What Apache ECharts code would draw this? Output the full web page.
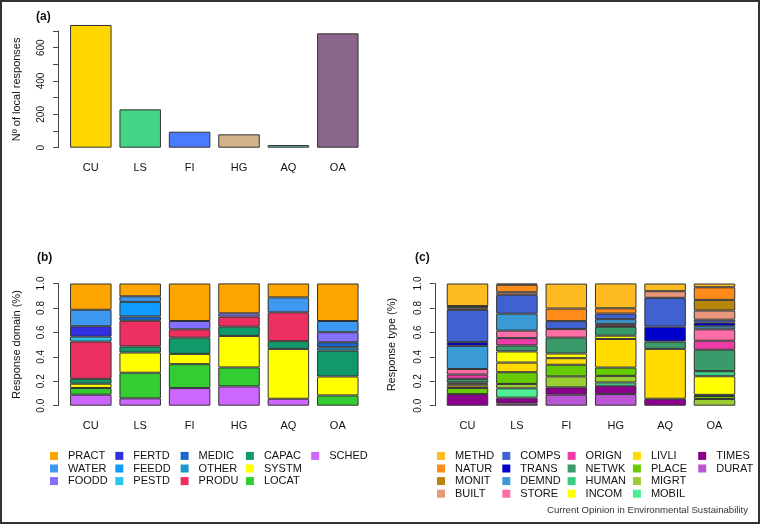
<!DOCTYPE html>
<html><head><meta charset="utf-8">
<script src="https://cdn.jsdelivr.net/npm/echarts@6/dist/echarts.min.js"></script>
<style>html,body{margin:0;padding:0;background:#fff}#c{width:760px;height:524px}</style>
</head><body><div id="c"></div>
<script>
// ---- data ----
const categories = ['CU', 'LS', 'FI', 'HG', 'AQ', 'OA'];
const responseCounts = [736, 230, 96, 80, 16, 686];
const countTickLabels = [0, 200, 400, 600];

// Panel (b): response domain shares, legend order (top of stack first)
const domainNames = ['PRACT','WATER','FOODD','FERTD','FEEDD','PESTD','MEDIC','OTHER','PRODU','CAPAC','SYSTM','LOCAT','SCHED'];
const PRACT = [0.215, 0.105, 0.307, 0.245, 0.114, 0.307];
const WATER = [0.135, 0.045, 0, 0, 0.122, 0.092];
const FOODD = [0, 0, 0.068, 0.027, 0, 0.082];
const FERTD = [0.085, 0, 0, 0, 0, 0];
const FEEDD = [0, 0.12, 0, 0, 0, 0];
const PESTD = [0.04, 0, 0, 0, 0, 0];
const MEDIC = [0, 0.035, 0, 0, 0, 0.041];
const OTHER = [0, 0, 0, 0, 0, 0.027];
const PRODU = [0.305, 0.21, 0.068, 0.082, 0.236, 0];
const CAPAC = [0.04, 0.05, 0.133, 0.076, 0.063, 0.212];
const SYSTM = [0.035, 0.165, 0.084, 0.258, 0.408, 0.155];
const LOCAT = [0.055, 0.21, 0.196, 0.155, 0, 0.084];
const SCHED = [0.09, 0.06, 0.144, 0.158, 0.057, 0];
const domainValues = {PRACT, WATER, FOODD, FERTD, FEEDD, PESTD, MEDIC, OTHER, PRODU, CAPAC, SYSTM, LOCAT, SCHED};

// Panel (c): response type shares, legend order (top of stack first)
const typeNames = ['METHD','NATUR','MONIT','BUILT','COMPS','TRANS','DEMND','STORE','ORIGN','NETWK','HUMAN','INCOM','LIVLI','PLACE','MIGRT','MOBIL','TIMES','DURAT'];
const METHD = [0.185, 0.01, 0.204, 0.204, 0.063, 0.031];
const NATUR = [0.005, 0.062, 0.103, 0.043, 0, 0.103];
const MONIT = [0.015, 0, 0, 0, 0, 0.087];
const BUILT = [0.01, 0.02, 0, 0, 0.054, 0.075];
const COMPS = [0.265, 0.155, 0.065, 0.046, 0.236, 0.024];
const TRANS = [0.03, 0, 0, 0, 0.122, 0.03];
const DEMND = [0.19, 0.139, 0, 0.038, 0, 0.025];
const STORE = [0.045, 0.061, 0.07, 0.016, 0, 0.093];
const ORIGN = [0.035, 0.06, 0, 0.008, 0, 0.074];
const NETWK = [0.03, 0.049, 0.13, 0.073, 0.06, 0.175];
const HUMAN = [0.01, 0, 0, 0, 0, 0.042];
const INCOM = [0.015, 0.091, 0.038, 0.027, 0, 0.152];
const LIVLI = [0.02, 0.079, 0.054, 0.234, 0.408, 0.01];
const PLACE = [0.05, 0.096, 0.095, 0.068, 0, 0.024];
const MIGRT = [0, 0.036, 0.09, 0.054, 0, 0.055];
const MOBIL = [0, 0.076, 0, 0.027, 0, 0];
const TIMES = [0.095, 0.048, 0.06, 0.068, 0.057, 0];
const DURAT = [0, 0.018, 0.09, 0.095, 0, 0];
const typeValues = {METHD, NATUR, MONIT, BUILT, COMPS, TRANS, DEMND, STORE, ORIGN, NETWK, HUMAN, INCOM, LIVLI, PLACE, MIGRT, MOBIL, TIMES, DURAT};

// ---- styles ----
const countColors = ['#FFD700', '#44D486', '#4A7BFF', '#D2B48C', '#62C8C8', '#8B668B'];
const domainColors = {PRACT:'#FFA500', WATER:'#3D99F0', FOODD:'#8470FF', FERTD:'#3030E0', FEEDD:'#109CFF', PESTD:'#28C4F0',
  MEDIC:'#1866C8', OTHER:'#1B98CC', PRODU:'#EE3060', CAPAC:'#12996A', SYSTM:'#FFFF00', LOCAT:'#33CC33', SCHED:'#CC66FF'};
const typeColors = {METHD:'#FDBA21', NATUR:'#FF8C1A', MONIT:'#B8860B', BUILT:'#E9967A', COMPS:'#4062D0', TRANS:'#0000CD',
  DEMND:'#3A9AD6', STORE:'#FF6EA6', ORIGN:'#F03CA8', NETWK:'#3A9A6A', HUMAN:'#3CCB82', INCOM:'#FFFF00',
  LIVLI:'#FFDB00', PLACE:'#66CC00', MIGRT:'#9ACD32', MOBIL:'#4EEE94', TIMES:'#8B008B', DURAT:'#BA55D3'};

const FONT = "'Liberation Sans', Arial, sans-serif";
const AX = '#444';
const border = {borderColor: '#333', borderWidth: 1};

function xAxisCfg(gi) {
  return {type: 'category', gridIndex: gi, data: categories,
    axisLine: {show: false}, axisTick: {show: false},
    axisLabel: {margin: 15, fontSize: 11, color: '#111', fontFamily: FONT}};
}
function yAxisCfg(gi, name, min, max, interval, fmt, nameGap, margin) {
  return {type: 'value', gridIndex: gi, min, max, interval, offset: 8,
    name, nameLocation: 'middle', nameRotate: 90, nameGap,
    nameTextStyle: {fontSize: 11, color: '#111', fontFamily: FONT},
    splitLine: {show: false},
    axisLine: {show: true, lineStyle: {color: AX, width: 1}},
    axisTick: {show: true, length: 5, lineStyle: {color: AX}},
    axisLabel: {rotate: 90, margin, fontSize: 10, color: '#111', fontFamily: FONT, formatter: fmt}};
}
const nz = arr => arr.map(v => (v === 0 ? null : v));

const series = [];
series.push({type: 'bar', xAxisIndex: 0, yAxisIndex: 0, clip: false, barWidth: 41.5,
  data: responseCounts.map((v, i) => ({value: v, itemStyle: {color: countColors[i]}})),
  itemStyle: border});
domainNames.slice().reverse().forEach(n => series.push({
  type: 'bar', name: n, stack: 'dom', xAxisIndex: 1, yAxisIndex: 1, barWidth: 41.5,
  data: nz(domainValues[n]), itemStyle: Object.assign({color: domainColors[n]}, border)}));
typeNames.slice().reverse().forEach(n => series.push({
  type: 'bar', name: n, stack: 'typ', xAxisIndex: 2, yAxisIndex: 2, barWidth: 41.5,
  data: nz(typeValues[n]), itemStyle: Object.assign({color: typeColors[n]}, border)}));

function chunk(arr, k) { const out = []; for (let i = 0; i < arr.length; i += k) out.push(arr.slice(i, i + k)); return out; }
const legends = [];
function addLegends(names, perCol, x0) {
  chunk(names, perCol).forEach((col, i) => legends.push({
    data: col, orient: 'vertical', left: x0 + i * 65.3, top: 449.6, padding: 0,
    itemGap: 0, itemWidth: 8, itemHeight: 8, icon: 'rect', selectedMode: false,
    itemStyle: {borderWidth: 0},
    textStyle: {fontSize: 11, lineHeight: 12.6, color: '#111', fontFamily: FONT, padding: [0, 0, 0, 5]}}));
}
addLegends(domainNames, 3, 50);
addLegends(typeNames, 4, 437);

const fmt1 = v => v.toFixed(1);
const option = {
  animation: false,
  textStyle: {fontFamily: FONT},
  title: [
    {text: '(a)', left: 36, top: 11, padding: 0, textStyle: {fontSize: 12, fontWeight: 'bold', color: '#111', fontFamily: FONT}},
    {text: '(b)', left: 37, top: 252, padding: 0, textStyle: {fontSize: 12, fontWeight: 'bold', color: '#111', fontFamily: FONT}},
    {text: '(c)', left: 415, top: 252, padding: 0, textStyle: {fontSize: 12, fontWeight: 'bold', color: '#111', fontFamily: FONT}},
    {text: 'Current Opinion in Environmental Sustainability', right: 12, top: 505, padding: 0,
      textStyle: {fontSize: 9.6, fontWeight: 'normal', color: '#333', fontFamily: FONT}}
  ],
  grid: [
    {left: 66.1, top: 31, width: 296.4, height: 116.7},
    {left: 66.1, top: 283.5, width: 296.4, height: 122.2},
    {left: 442.8, top: 283.5, width: 296.4, height: 122.2}
  ],
  xAxis: [xAxisCfg(0), xAxisCfg(1), xAxisCfg(2)],
  yAxis: [
    yAxisCfg(0, 'Nº of local responses', 0, 700, 100, v => (countTickLabels.includes(v) ? String(v) : ''), 36, 12),
    yAxisCfg(1, 'Response domain (%)', 0, 1, 0.2, fmt1, 36, 12),
    yAxisCfg(2, 'Response type (%)', 0, 1, 0.2, fmt1, 37, 12)
  ],
  legend: legends,
  series,
  graphic: [{type: 'rect', shape: {x: 1, y: 1, width: 758, height: 522}, silent: true,
    style: {fill: 'none', stroke: '#333', lineWidth: 2}}]
};
const chart = echarts.init(document.getElementById('c'));
chart.setOption(option);
</script></body></html>
